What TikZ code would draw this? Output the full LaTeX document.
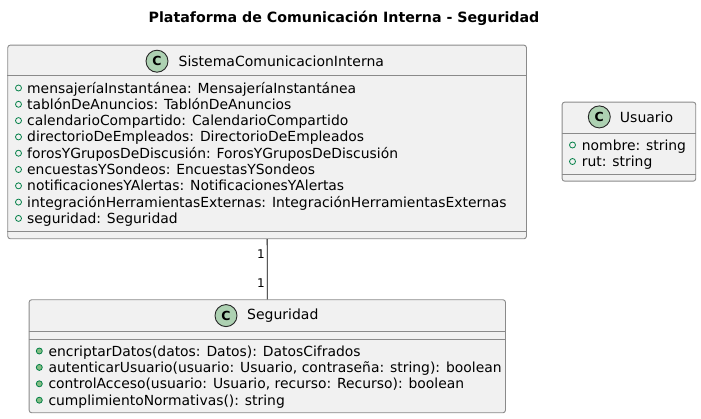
\documentclass[tikz,border=0pt]{standalone}
\usepackage{fontspec}
\setmainfont{DejaVu Sans}
\usetikzlibrary{positioning}
\definecolor{boxfill}{HTML}{F1F1F1}
\definecolor{boxline}{HTML}{8A8A8A}
\definecolor{iconfill}{HTML}{ADD1B2}
\definecolor{markline}{HTML}{038048}
\definecolor{markfill}{HTML}{84BE84}

\begin{document}
\begin{tikzpicture}[
    x=1pt, y=-1pt,
    classbox/.style={draw=boxline,fill=boxfill,rounded corners=2.5pt,line width=0.9pt,anchor=north west,inner sep=0pt},
    sepline/.style={draw=boxline,line width=0.9pt},
    classicon/.style={draw=black!85,fill=iconfill,circle,minimum size=22pt,inner sep=0pt,line width=0.9pt,font=\bfseries\fontsize{12.5}{13}\selectfont},
    header/.style={inner sep=0pt,font=\fontsize{14}{16}\selectfont},
    member/.style={anchor=base west,inner sep=0pt,font=\fontsize{13.9}{16}\selectfont},
    field/.style={draw=markline,line width=0.8pt},
    method/.style={draw=markline,fill=markfill,line width=0.8pt},
    mult/.style={inner sep=0pt,anchor=east,font=\fontsize{12}{14}\selectfont}
    ]
    \useasboundingbox (0,0) rectangle (701,418);

    \node[font=\bfseries\fontsize{14.2}{16}\selectfont] (title) at (344,18) {Plataforma de Comunicación Interna - Seguridad};

    % class boxes
    \node[classbox,minimum width=518.7pt,minimum height=193.6pt] (sistema) at (7.3,44.7) {};
    \node[classbox,minimum width=133.6pt,minimum height=79pt] (usuario) at (561.7,101.7) {};
    \node[classbox,minimum width=476.3pt,minimum height=113pt] (seguridad) at (28.7,299.3) {};

    \draw[sepline] ([yshift=-31pt]sistema.north west) -- ([yshift=-31pt]sistema.north east);
    \draw[sepline] ([yshift=7.6pt]sistema.south west) -- ([yshift=7.6pt]sistema.south east);
    \draw[sepline] ([yshift=-31.6pt]usuario.north west) -- ([yshift=-31.6pt]usuario.north east);
    \draw[sepline] ([yshift=7.4pt]usuario.south west) -- ([yshift=7.4pt]usuario.south east);
    \draw[sepline] ([yshift=-32pt]seguridad.north west) -- ([yshift=-32pt]seguridad.north east);
    \draw[sepline] ([yshift=-40pt]seguridad.north west) -- ([yshift=-40pt]seguridad.north east);

    % headers
    \node[classicon] (sistemaC) at (157,61.2) {C};
    \node[header,right=10pt of sistemaC] (sistemaName) {SistemaComunicacionInterna};
    \node[classicon] (usuarioC) at (599.3,116.9) {C};
    \node[header,right=9pt of usuarioC] (usuarioName) {Usuario};
    \node[classicon] (seguridadC) at (226,315.6) {C};
    \node[header,right=9.5pt of seguridadC] (seguridadName) {Seguridad};

    % fields
    \node[member] (s1) at (27,93) {mensajeríaInstantánea: MensajeríaInstantánea};
    \node[member] (s2) at (27,109.3) {tablónDeAnuncios: TablónDeAnuncios};
    \node[member] (s3) at (27,125.6) {calendarioCompartido: CalendarioCompartido};
    \node[member] (s4) at (27,141.9) {directorioDeEmpleados: DirectorioDeEmpleados};
    \node[member] (s5) at (27,158.2) {forosYGruposDeDiscusión: ForosYGruposDeDiscusión};
    \node[member] (s6) at (27,174.5) {encuestasYSondeos: EncuestasYSondeos};
    \node[member] (s7) at (27,190.8) {notificacionesYAlertas: NotificacionesYAlertas};
    \node[member] (s8) at (27,207.1) {integraciónHerramientasExternas: IntegraciónHerramientasExternas};
    \node[member] (s9) at (27,223.4) {seguridad: Seguridad};
    \foreach \y in {88,104.3,120.6,136.9,153.2,169.5,185.8,202.1,218.4}
      \draw[field] (18.5,\y) circle (3pt);

    \node[member] (u1) at (581.7,150) {nombre: string};
    \node[member] (u2) at (581.7,166.5) {rut: string};
    \foreach \y in {145,161.5}
      \draw[field] (572.5,\y) circle (3pt);

    % methods
    \node[member] (m1) at (48.3,356) {encriptarDatos(datos: Datos): DatosCifrados};
    \node[member] (m2) at (48.3,372.4) {autenticarUsuario(usuario: Usuario, contraseña: string): boolean};
    \node[member] (m3) at (48.3,388.8) {controlAcceso(usuario: Usuario, recurso: Recurso): boolean};
    \node[member] (m4) at (48.3,405.2) {cumplimientoNormativas(): string};
    \foreach \y in {351,367.4,383.8,400.2}
      \draw[method] (39.3,\y) circle (3pt);

    % association
    \draw[line width=0.9pt] (sistema) -- (seguridad);
    \node[mult] (multTop) at (265,254) {1};
    \node[mult] (multBot) at (265,283.5) {1};

  \end{tikzpicture}
\end{document}
